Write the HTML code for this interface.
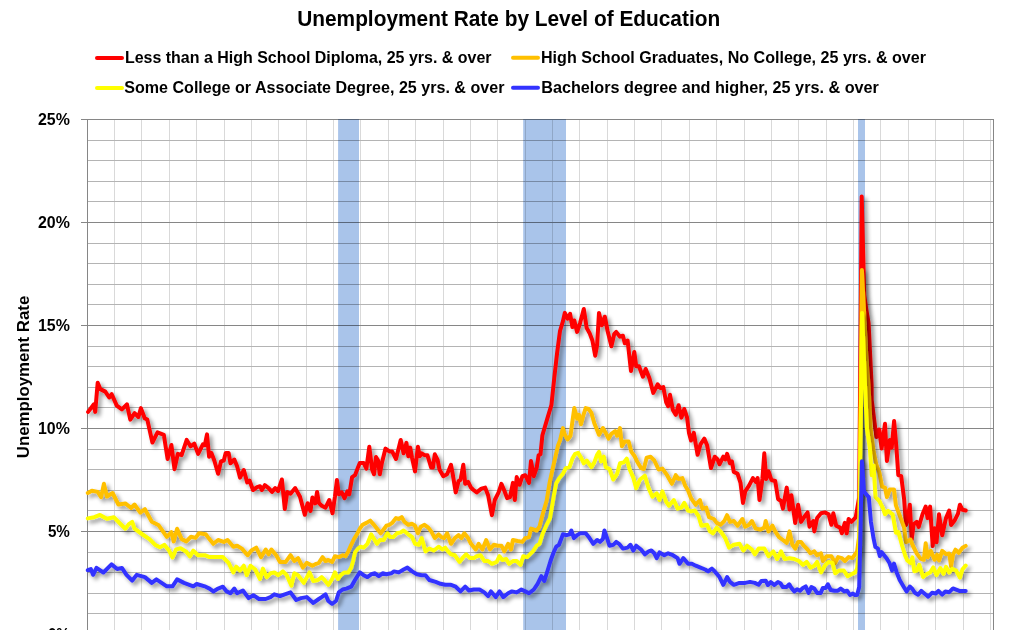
<!DOCTYPE html><html><head><meta charset="utf-8"><style>html,body{margin:0;padding:0;background:#fff;width:1011px;height:630px;overflow:hidden;position:relative}</style></head><body><svg width="1011" height="630" viewBox="0 0 1011 630" style="position:absolute;left:0;top:0">
<defs><filter id="sh" x="-5%" y="-5%" width="110%" height="115%">
<feGaussianBlur in="SourceAlpha" stdDeviation="2.3"/><feOffset dx="3" dy="3" result="b"/>
<feComponentTransfer><feFuncA type="linear" slope="0.42"/></feComponentTransfer>
<feMerge><feMergeNode/><feMergeNode in="SourceGraphic"/></feMerge></filter></defs>
<rect x="338.1" y="119" width="20.9" height="511" fill="#A9C4EA"/>
<rect x="523.2" y="119" width="42.8" height="511" fill="#A9C4EA"/>
<rect x="858.0" y="119" width="7.0" height="511" fill="#A9C4EA"/>
<g style="mix-blend-mode:multiply"><line x1="114.5" y1="119" x2="114.5" y2="630" stroke="#D9D9D9" stroke-width="1"/><line x1="141.5" y1="119" x2="141.5" y2="630" stroke="#D9D9D9" stroke-width="1"/><line x1="169.5" y1="119" x2="169.5" y2="630" stroke="#D9D9D9" stroke-width="1"/><line x1="196.5" y1="119" x2="196.5" y2="630" stroke="#D9D9D9" stroke-width="1"/><line x1="224.5" y1="119" x2="224.5" y2="630" stroke="#D9D9D9" stroke-width="1"/><line x1="251.5" y1="119" x2="251.5" y2="630" stroke="#D9D9D9" stroke-width="1"/><line x1="278.5" y1="119" x2="278.5" y2="630" stroke="#D9D9D9" stroke-width="1"/><line x1="306.5" y1="119" x2="306.5" y2="630" stroke="#D9D9D9" stroke-width="1"/><line x1="333.5" y1="119" x2="333.5" y2="630" stroke="#D9D9D9" stroke-width="1"/><line x1="360.5" y1="119" x2="360.5" y2="630" stroke="#D9D9D9" stroke-width="1"/><line x1="388.5" y1="119" x2="388.5" y2="630" stroke="#D9D9D9" stroke-width="1"/><line x1="415.5" y1="119" x2="415.5" y2="630" stroke="#D9D9D9" stroke-width="1"/><line x1="443.5" y1="119" x2="443.5" y2="630" stroke="#D9D9D9" stroke-width="1"/><line x1="470.5" y1="119" x2="470.5" y2="630" stroke="#D9D9D9" stroke-width="1"/><line x1="497.5" y1="119" x2="497.5" y2="630" stroke="#D9D9D9" stroke-width="1"/><line x1="525.5" y1="119" x2="525.5" y2="630" stroke="#D9D9D9" stroke-width="1"/><line x1="552.5" y1="119" x2="552.5" y2="630" stroke="#D9D9D9" stroke-width="1"/><line x1="579.5" y1="119" x2="579.5" y2="630" stroke="#D9D9D9" stroke-width="1"/><line x1="607.5" y1="119" x2="607.5" y2="630" stroke="#D9D9D9" stroke-width="1"/><line x1="634.5" y1="119" x2="634.5" y2="630" stroke="#D9D9D9" stroke-width="1"/><line x1="661.5" y1="119" x2="661.5" y2="630" stroke="#D9D9D9" stroke-width="1"/><line x1="689.5" y1="119" x2="689.5" y2="630" stroke="#D9D9D9" stroke-width="1"/><line x1="716.5" y1="119" x2="716.5" y2="630" stroke="#D9D9D9" stroke-width="1"/><line x1="744.5" y1="119" x2="744.5" y2="630" stroke="#D9D9D9" stroke-width="1"/><line x1="771.5" y1="119" x2="771.5" y2="630" stroke="#D9D9D9" stroke-width="1"/><line x1="798.5" y1="119" x2="798.5" y2="630" stroke="#D9D9D9" stroke-width="1"/><line x1="826.5" y1="119" x2="826.5" y2="630" stroke="#D9D9D9" stroke-width="1"/><line x1="853.5" y1="119" x2="853.5" y2="630" stroke="#D9D9D9" stroke-width="1"/><line x1="880.5" y1="119" x2="880.5" y2="630" stroke="#D9D9D9" stroke-width="1"/><line x1="908.5" y1="119" x2="908.5" y2="630" stroke="#D9D9D9" stroke-width="1"/><line x1="935.5" y1="119" x2="935.5" y2="630" stroke="#D9D9D9" stroke-width="1"/><line x1="963.5" y1="119" x2="963.5" y2="630" stroke="#D9D9D9" stroke-width="1"/><line x1="990.5" y1="119" x2="990.5" y2="630" stroke="#D9D9D9" stroke-width="1"/><line x1="81" y1="634.50" x2="994" y2="634.50" stroke="#868686" stroke-width="1"/><line x1="87" y1="613.50" x2="994" y2="613.50" stroke="#B4B4B4" stroke-width="1"/><line x1="87" y1="593.50" x2="994" y2="593.50" stroke="#B4B4B4" stroke-width="1"/><line x1="87" y1="572.50" x2="994" y2="572.50" stroke="#B4B4B4" stroke-width="1"/><line x1="87" y1="552.50" x2="994" y2="552.50" stroke="#B4B4B4" stroke-width="1"/><line x1="81" y1="531.50" x2="994" y2="531.50" stroke="#868686" stroke-width="1"/><line x1="87" y1="510.50" x2="994" y2="510.50" stroke="#B4B4B4" stroke-width="1"/><line x1="87" y1="490.50" x2="994" y2="490.50" stroke="#B4B4B4" stroke-width="1"/><line x1="87" y1="469.50" x2="994" y2="469.50" stroke="#B4B4B4" stroke-width="1"/><line x1="87" y1="449.50" x2="994" y2="449.50" stroke="#B4B4B4" stroke-width="1"/><line x1="81" y1="428.50" x2="994" y2="428.50" stroke="#868686" stroke-width="1"/><line x1="87" y1="407.50" x2="994" y2="407.50" stroke="#B4B4B4" stroke-width="1"/><line x1="87" y1="387.50" x2="994" y2="387.50" stroke="#B4B4B4" stroke-width="1"/><line x1="87" y1="366.50" x2="994" y2="366.50" stroke="#B4B4B4" stroke-width="1"/><line x1="87" y1="346.50" x2="994" y2="346.50" stroke="#B4B4B4" stroke-width="1"/><line x1="81" y1="325.50" x2="994" y2="325.50" stroke="#868686" stroke-width="1"/><line x1="87" y1="304.50" x2="994" y2="304.50" stroke="#B4B4B4" stroke-width="1"/><line x1="87" y1="284.50" x2="994" y2="284.50" stroke="#B4B4B4" stroke-width="1"/><line x1="87" y1="263.50" x2="994" y2="263.50" stroke="#B4B4B4" stroke-width="1"/><line x1="87" y1="243.50" x2="994" y2="243.50" stroke="#B4B4B4" stroke-width="1"/><line x1="81" y1="222.50" x2="994" y2="222.50" stroke="#868686" stroke-width="1"/><line x1="87" y1="201.50" x2="994" y2="201.50" stroke="#B4B4B4" stroke-width="1"/><line x1="87" y1="181.50" x2="994" y2="181.50" stroke="#B4B4B4" stroke-width="1"/><line x1="87" y1="160.50" x2="994" y2="160.50" stroke="#B4B4B4" stroke-width="1"/><line x1="87" y1="140.50" x2="994" y2="140.50" stroke="#B4B4B4" stroke-width="1"/><line x1="81" y1="119.50" x2="994" y2="119.50" stroke="#868686" stroke-width="1"/></g>
<line x1="87.5" y1="119" x2="87.5" y2="630" stroke="#868686" stroke-width="1"/>
<line x1="993.5" y1="119.5" x2="993.5" y2="630" stroke="#868686" stroke-width="1"/>
<g fill="none" stroke-width="4" stroke-linejoin="round" stroke-linecap="round">
<polyline filter="url(#sh)" points="88.1,411.9 93.9,404.3 95.2,411.9 97.7,382.7 100.3,389.1 105.3,391.6 109.2,397.5 111.7,394.2 116.8,405.6 121.9,409.4 126.9,404.3 130.3,419.6 134.6,413.2 138.4,417.0 140.9,408.1 144.7,418.3 147.3,419.6 152.4,442.5 157.5,432.3 163.8,434.8 167.6,459.0 171.4,445.0 174.5,469.2 177.8,453.9 181.6,455.2 186.7,439.9 190.5,446.3 194.3,443.7 198.1,453.9 202.9,444.3 204.8,445.2 207.0,434.4 209.1,456.7 211.4,452.9 214.3,460.5 218.1,473.8 221.0,461.4 223.8,460.5 225.7,452.9 228.6,452.9 230.5,463.3 234.3,459.5 237.1,466.2 240.0,477.6 243.8,470.0 247.2,482.4 249.5,480.5 253.0,490.0 257.1,487.1 260.0,486.2 261.9,490.0 264.8,485.2 268.6,488.1 272.0,491.9 275.2,488.1 278.1,491.0 281.9,479.5 284.8,509.0 287.2,491.9 290.5,493.8 295.2,488.1 300.0,496.7 304.8,514.8 307.6,503.3 310.5,511.0 312.4,497.6 315.2,503.3 317.1,491.9 318.8,502.9 321.7,505.7 325.5,507.6 329.3,500.0 332.5,513.3 335.0,496.2 336.9,480.0 338.8,494.3 341.7,492.4 344.5,498.1 347.4,491.4 349.3,494.3 352.1,477.1 355.0,475.2 357.9,467.6 359.8,462.9 363.6,462.9 366.4,468.6 369.3,446.7 372.1,469.5 374.0,474.3 376.0,457.1 377.9,460.0 379.8,474.3 381.7,463.8 385.5,448.6 389.3,451.4 392.1,451.4 396.0,459.0 400.7,440.0 403.6,453.3 406.4,442.9 408.3,456.2 410.2,447.6 412.1,458.1 415.0,471.4 417.9,446.7 419.8,456.2 421.7,453.3 424.5,455.2 427.4,455.2 431.2,467.6 432.9,467.6 434.8,454.3 437.6,460.0 439.5,469.5 443.3,476.2 447.1,474.3 451.0,464.8 452.9,475.2 455.7,492.4 458.6,481.0 460.5,480.0 463.3,464.8 465.2,483.8 468.1,481.9 471.0,487.6 472.9,489.5 476.7,492.4 481.4,488.6 485.2,487.6 488.1,495.2 491.9,515.2 494.8,500.0 498.6,492.4 501.4,483.8 504.3,490.5 507.1,498.1 510.0,497.1 512.9,482.9 514.8,500.0 516.7,477.1 519.5,484.8 522.4,476.2 525.2,475.2 529.0,482.9 531.0,461.0 533.8,476.2 536.7,467.6 538.6,455.2 540.5,454.3 542.4,435.2 547.6,417.6 551.4,405.2 554.3,377.6 557.1,352.9 560.0,331.0 562.9,321.4 564.8,312.9 567.6,318.6 570.1,313.8 572.4,327.1 574.3,320.5 577.1,331.9 580.0,323.3 583.8,309.0 586.7,328.1 589.5,332.9 592.4,340.5 595.2,355.7 597.1,345.2 599.0,312.9 601.9,325.2 604.8,316.7 607.6,331.0 611.4,346.2 614.3,333.8 616.2,331.9 620.0,336.7 622.9,335.7 624.8,343.3 627.6,340.5 631.0,371.0 634.3,351.9 636.2,366.2 639.0,366.2 642.9,376.7 645.7,369.0 649.5,378.6 653.3,392.9 657.6,384.3 660.5,388.1 663.3,387.1 666.2,402.4 668.1,406.2 670.0,394.8 672.9,410.0 675.7,414.8 678.6,405.2 681.4,417.6 684.3,409.0 687.1,417.6 689.0,432.9 691.0,440.5 693.8,432.9 697.6,454.8 700.5,444.3 704.3,438.6 707.1,445.2 711.0,468.1 714.8,456.7 717.6,459.5 719.5,464.3 723.3,456.7 725.2,459.5 727.1,453.8 730.0,463.3 731.9,461.4 733.8,471.9 737.6,473.8 740.5,482.9 743.0,502.9 745.2,491.4 749.0,485.7 752.9,478.1 755.7,481.9 757.6,478.1 759.5,500.0 762.4,479.0 764.3,453.3 766.2,479.0 768.6,471.4 771.4,480.0 775.2,481.0 778.1,499.0 781.0,501.0 782.9,508.6 786.7,487.6 789.5,509.5 791.4,495.2 795.2,522.9 798.1,504.8 801.0,521.9 804.8,516.2 807.6,512.4 809.5,526.7 813.3,521.0 814.3,531.4 817.1,518.1 821.0,513.3 824.8,512.4 828.6,514.3 831.4,524.8 833.3,513.3 836.2,525.7 840.0,527.6 841.9,533.3 844.8,522.9 846.7,533.3 848.6,519.0 851.4,521.9 855.7,517.3 859.2,497.0 861.7,196.5 864.2,295.0 866.4,310.0 868.6,323.0 871.6,385.0 871.7,400.0 873.6,415.2 876.4,437.1 879.3,429.5 881.6,448.6 885.0,423.8 886.9,461.0 889.8,440.0 891.7,447.6 894.1,421.0 896.4,447.6 898.3,475.2 901.2,476.2 904.1,499.0 906.0,525.1 907.9,518.1 909.8,504.7 911.7,539.6 913.6,524.4 916.8,521.9 918.7,527.0 922.5,514.3 925.7,506.6 927.6,518.1 930.1,506.6 932.7,546.0 934.6,528.2 936.5,542.2 939.0,514.3 942.2,535.2 946.0,518.1 949.2,510.5 951.1,525.1 954.9,520.0 958.0,513.6 959.9,504.7 962.5,509.8 965.7,510.5" stroke="#FF0000"/>
<polyline filter="url(#sh)" points="87.8,493.0 91.9,490.7 97.7,491.9 101.1,497.2 103.9,483.8 106.9,496.5 112.6,493.0 118.4,504.5 125.3,503.4 131.1,508.0 134.5,504.5 140.3,512.6 144.9,509.2 151.8,521.8 158.7,525.3 166.8,536.8 171.4,532.2 173.7,541.4 177.1,528.7 181.7,539.1 186.3,541.4 191.0,536.8 195.6,537.9 199.0,533.3 205.7,534.3 208.6,538.1 213.3,543.8 218.1,540.0 223.8,541.9 227.6,540.0 233.3,546.7 237.1,545.7 241.9,548.6 247.6,555.2 251.4,550.5 256.2,547.6 261.0,557.1 265.7,549.5 268.6,554.3 271.4,549.5 276.2,555.2 280.0,561.9 285.7,561.9 290.5,555.2 294.3,561.0 298.1,558.1 302.9,567.6 306.7,562.9 312.4,565.7 316.2,563.8 318.8,562.9 322.6,557.1 325.5,561.0 328.3,560.0 332.1,561.9 335.0,556.2 338.8,557.1 342.6,555.2 345.5,556.2 348.3,551.4 351.2,544.8 354.0,539.0 356.9,534.3 359.8,528.6 362.6,524.8 366.4,522.9 370.2,520.6 373.1,523.8 376.9,528.6 380.7,533.3 383.6,529.5 386.4,525.7 389.3,524.8 392.1,522.9 396.0,518.1 398.8,519.0 401.7,517.1 404.5,521.9 408.3,524.8 412.1,523.8 415.0,525.7 417.9,533.3 420.7,526.7 424.5,524.8 428.3,527.6 431.2,531.4 434.8,538.1 438.6,534.3 441.4,537.1 444.3,538.1 447.1,533.3 451.0,543.8 454.8,538.1 458.6,535.2 461.4,538.1 464.3,533.3 468.1,538.1 471.0,543.8 475.7,549.5 478.6,543.8 482.4,549.5 486.2,540.0 490.0,549.5 493.8,544.8 497.6,545.7 501.4,545.7 504.3,551.4 508.1,543.8 511.0,549.5 512.9,540.0 517.6,541.0 522.4,541.9 525.2,538.1 529.0,537.1 531.0,528.6 536.7,530.5 539.5,526.7 542.4,515.2 546.7,500.5 549.5,483.3 552.4,470.0 555.2,457.6 558.1,445.2 560.0,440.5 562.9,428.1 564.8,434.8 567.6,439.5 570.5,435.7 572.4,421.4 574.3,408.1 577.1,418.6 579.0,414.8 581.0,424.3 583.8,413.8 585.7,408.1 588.6,409.0 591.4,412.9 594.3,423.3 597.1,430.0 599.0,434.8 602.9,428.1 605.7,432.9 608.6,438.6 611.4,433.8 615.2,431.0 617.1,435.7 620.0,428.1 621.9,446.2 624.8,441.4 628.6,441.4 631.4,451.9 634.3,455.7 637.1,461.4 641.0,468.1 643.8,469.0 646.7,457.6 650.5,456.7 654.3,460.5 658.6,469.5 662.4,468.6 667.1,475.2 671.9,483.8 675.7,475.2 678.6,479.0 682.4,478.1 685.2,485.7 688.1,490.5 691.0,498.1 695.7,504.8 699.9,500.0 702.4,508.6 706.2,507.6 709.0,517.1 713.8,519.0 716.7,522.9 720.5,524.8 724.3,521.0 727.1,515.2 730.0,521.9 733.8,521.0 737.6,525.7 742.4,519.0 745.2,526.7 749.0,524.8 751.9,521.0 755.7,528.6 760.5,529.5 764.3,527.6 765.7,521.0 768.6,531.4 772.4,525.7 775.2,531.4 779.0,537.1 782.9,540.0 786.7,542.9 789.5,531.4 792.4,544.8 795.2,548.6 798.1,541.9 801.0,541.9 803.8,545.7 807.6,549.5 810.5,553.3 814.3,551.4 817.1,555.2 821.0,553.3 822.9,561.0 826.7,556.2 831.4,556.2 835.2,562.9 838.1,557.1 841.9,558.1 844.8,561.0 848.6,557.1 852.4,558.1 855.2,554.3 857.1,551.4 859.2,536.0 861.9,270.0 864.5,320.0 866.5,360.0 868.5,385.0 870.7,428.6 873.6,451.4 876.4,464.8 879.3,472.4 882.1,486.7 885.0,487.6 886.9,497.1 889.8,489.5 894.0,489.5 895.9,505.4 899.7,515.5 904.1,527.6 906.0,542.2 910.5,539.6 913.0,546.0 916.8,553.6 920.6,558.6 923.8,559.8 925.7,543.3 927.6,557.3 930.8,550.9 934.6,559.8 937.1,554.7 939.0,560.5 942.2,550.9 946.0,554.1 949.2,553.5 951.1,566.2 953.0,554.7 955.5,549.7 958.7,552.8 962.5,547.8 965.7,545.9" stroke="#FFC000"/>
<polyline filter="url(#sh)" points="87.8,518.4 94.2,517.2 100.0,514.9 106.9,518.8 113.8,517.2 119.5,523.0 125.3,528.7 128.8,524.1 132.2,521.8 134.5,528.7 142.6,534.5 149.5,539.1 155.2,544.9 159.9,547.2 164.5,544.9 169.1,550.6 172.5,557.5 176.0,549.5 180.6,548.3 186.3,551.8 189.8,556.4 193.3,550.6 197.9,555.2 204.8,555.2 209.5,557.1 215.2,557.1 222.9,557.1 228.6,562.9 233.3,572.4 236.2,566.7 240.0,570.5 243.8,565.7 246.7,575.2 250.5,565.7 255.2,569.5 260.0,579.0 262.9,568.6 266.7,577.1 270.5,573.3 274.3,572.4 278.1,575.2 282.9,571.4 286.7,575.2 291.4,585.7 294.3,573.3 298.1,575.2 303.8,582.9 309.5,572.4 313.3,581.0 317.9,580.0 321.7,577.1 324.5,580.0 328.3,584.8 332.1,579.0 335.0,572.4 337.9,579.0 340.7,575.2 344.5,572.4 348.3,572.4 351.2,567.6 353.1,561.0 355.0,552.4 357.9,548.6 360.7,546.7 363.6,547.6 367.4,543.8 371.2,534.3 374.0,539.0 376.9,543.8 379.8,540.0 383.6,540.0 387.4,533.3 390.2,537.1 393.1,537.1 396.9,533.3 400.7,532.4 403.6,530.5 408.3,534.3 412.1,537.1 415.0,543.8 418.8,544.8 421.7,538.1 425.5,551.4 429.3,548.6 433.8,550.5 438.6,546.7 442.4,549.5 445.2,547.6 448.1,551.4 451.0,554.3 454.8,555.2 459.5,561.9 463.3,557.1 466.2,554.3 470.0,558.1 473.8,558.1 476.7,556.2 480.5,555.2 484.3,561.0 488.1,561.0 491.9,563.8 496.7,561.9 499.5,556.2 502.4,560.0 506.2,559.0 509.0,563.8 512.9,561.0 516.7,561.0 520.5,564.8 523.3,556.2 527.1,557.1 532.9,551.4 536.7,545.7 539.5,543.8 542.4,534.3 546.2,525.7 550.0,518.1 551.4,510.0 554.3,492.9 556.2,483.3 559.0,478.6 562.9,473.8 565.7,468.1 569.5,467.1 572.4,458.6 575.2,453.8 578.1,452.9 581.0,457.6 583.8,463.3 586.7,460.5 591.4,467.1 594.3,462.4 597.1,454.8 599.0,451.9 601.0,461.4 603.8,456.7 605.7,467.1 609.5,469.0 613.3,479.5 617.1,473.8 620.0,463.3 623.8,462.4 626.7,458.6 629.5,469.0 633.3,477.6 636.2,488.1 640.0,479.5 644.8,475.7 648.6,488.1 652.4,496.7 656.7,493.3 659.5,500.0 662.4,491.4 666.2,501.9 669.0,505.7 673.8,500.0 677.6,508.6 681.4,507.6 684.3,502.9 688.1,510.5 691.0,511.4 694.8,510.5 698.6,516.2 701.4,525.7 707.1,524.8 710.0,531.4 712.9,533.3 716.7,527.6 721.4,532.4 725.2,538.1 729.0,547.6 733.8,544.8 739.5,543.8 743.3,550.5 747.1,545.7 751.9,549.5 754.8,554.3 758.6,548.6 764.3,548.6 768.6,556.2 773.3,551.4 777.1,559.0 781.0,551.4 784.8,559.0 789.5,558.1 794.3,559.0 799.0,561.0 802.9,564.8 806.7,561.9 810.5,567.6 814.3,565.7 817.1,561.9 821.0,572.4 824.8,565.7 828.6,561.9 832.4,562.9 835.2,573.3 839.0,570.5 843.8,570.5 847.6,576.2 851.4,574.3 855.2,572.4 857.1,568.6 859.2,549.0 862.1,313.0 865.0,385.0 866.9,428.6 869.8,447.6 871.7,475.2 873.6,465.7 875.5,497.1 879.3,501.0 883.1,508.6 885.0,514.3 888.1,510.9 892.7,514.3 895.9,532.7 898.4,532.0 902.2,546.0 905.4,556.1 907.3,560.5 910.5,563.0 912.4,557.3 914.3,571.2 916.8,570.6 919.3,564.9 923.1,577.0 927.0,573.8 930.1,572.5 933.3,567.4 936.5,575.1 940.3,568.1 943.5,573.8 946.0,566.8 949.2,572.5 952.3,568.7 956.1,570.6 959.9,577.6 962.5,569.3 965.7,565.5" stroke="#FFFF00"/>
<polyline filter="url(#sh)" points="87.8,570.2 90.8,569.0 93.1,574.8 96.5,567.9 103.4,572.5 111.5,564.4 117.2,569.0 121.9,567.9 126.5,574.8 132.2,580.6 136.8,574.8 144.9,577.1 151.8,582.9 156.4,579.4 166.8,586.3 172.5,586.3 177.1,579.4 184.0,582.9 193.3,586.3 196.7,584.0 205.7,586.7 209.5,588.6 213.3,591.4 218.1,588.6 222.9,586.7 226.7,591.4 230.5,593.3 234.3,588.6 237.1,593.3 242.9,590.5 248.6,598.1 253.3,595.2 259.0,599.0 265.7,599.0 270.5,597.1 274.3,594.3 280.0,596.2 284.8,594.3 290.5,592.4 296.2,600.0 301.0,598.1 306.7,597.1 313.3,602.9 318.8,599.0 321.7,597.1 325.5,594.3 328.3,601.0 332.1,603.8 336.0,601.0 338.8,592.4 342.6,589.5 346.4,588.6 351.2,586.7 355.0,580.0 359.8,572.4 363.6,575.2 367.4,577.1 371.2,574.3 375.0,573.3 378.8,576.2 382.6,573.3 386.4,574.3 391.2,573.3 394.0,571.4 398.8,572.4 403.6,569.5 407.4,567.6 412.1,571.4 416.9,574.3 421.7,575.2 425.5,575.2 429.3,580.0 435.7,581.9 440.5,583.8 445.2,584.8 451.0,584.8 455.7,586.7 460.5,591.4 465.2,586.7 469.0,590.5 473.8,589.5 479.5,589.5 484.3,592.4 488.1,596.2 491.0,591.4 495.7,597.1 499.5,591.4 503.3,597.1 508.1,593.3 511.9,591.4 516.7,592.4 521.4,589.5 525.2,591.4 529.0,593.3 533.8,589.5 537.6,583.8 541.4,576.2 544.3,581.0 547.6,570.5 550.5,561.0 553.3,553.3 556.2,546.7 559.0,544.8 561.9,537.1 562.9,534.3 566.7,535.2 569.5,534.3 571.4,530.5 573.9,538.1 577.1,535.2 580.0,533.3 585.7,533.3 589.5,538.1 593.3,543.8 597.1,540.0 600.0,541.9 602.9,539.0 604.4,530.5 606.7,537.1 609.5,545.7 613.3,544.8 616.2,541.9 619.0,543.8 622.9,548.6 627.6,547.6 630.5,544.8 633.3,550.5 636.2,545.7 641.0,549.5 644.8,554.3 648.6,551.4 651.4,550.5 654.3,553.3 656.7,558.1 659.5,552.4 664.3,555.2 668.1,553.3 672.9,555.2 677.6,558.1 679.5,563.8 683.3,558.1 688.1,563.8 691.9,563.8 695.7,565.7 700.5,567.6 705.2,569.5 708.1,571.4 711.9,568.6 714.8,571.4 719.5,577.1 723.3,584.8 727.1,577.1 730.0,581.9 733.8,584.8 739.5,582.9 745.2,582.9 750.0,581.9 754.8,582.9 758.6,584.8 761.4,581.0 765.7,580.7 767.9,585.0 770.7,582.1 774.3,585.0 777.9,582.1 780.7,583.6 782.9,587.1 786.4,587.1 789.3,584.3 791.4,587.9 794.3,591.4 797.1,589.3 800.0,590.7 802.9,587.9 805.7,586.4 808.6,592.9 811.4,587.1 814.3,588.6 817.1,592.9 820.7,592.9 822.9,587.9 825.7,587.9 827.9,584.3 830.7,590.0 834.3,590.7 837.9,590.7 840.7,588.6 844.3,591.4 847.1,590.7 850.0,595.0 852.9,593.6 855.0,595.0 857.1,595.0 859.2,587.0 861.9,461.3 864.0,491.4 866.9,495.2 868.8,497.1 870.9,521.7 873.5,538.2 875.4,547.1 877.9,548.4 879.8,556.0 881.7,552.2 886.3,557.9 889.5,563.0 892.1,570.6 894.0,563.6 896.5,571.9 899.7,580.1 903.5,586.5 906.6,591.5 909.8,586.5 912.4,589.0 914.9,592.8 918.1,594.7 921.2,590.9 924.4,593.5 928.2,596.6 932.0,592.8 935.8,593.5 938.4,590.9 942.2,594.7 945.4,591.5 949.2,592.2 953.0,588.4 956.1,589.6 959.3,590.9 965.7,590.9" stroke="#3333FF"/>
</g>
<text x="297.2" y="25.9" font-family="&quot;Liberation Sans&quot;, sans-serif" font-weight="bold" font-size="22" textLength="423" lengthAdjust="spacingAndGlyphs" text-anchor="start" >Unemployment Rate by Level of Education</text>
<g stroke-width="4" stroke-linecap="round">
<line x1="97" y1="58" x2="122" y2="58" stroke="#FF0000"/>
<line x1="513" y1="57.8" x2="538" y2="57.8" stroke="#FFC000"/>
<line x1="97" y1="88" x2="122" y2="88" stroke="#FFFF00"/>
<line x1="513" y1="87.8" x2="538" y2="87.8" stroke="#3333FF"/>
</g>
<text x="124.9" y="63" font-family="&quot;Liberation Sans&quot;, sans-serif" font-weight="bold" font-size="16.8" textLength="366.6" lengthAdjust="spacingAndGlyphs" text-anchor="start" >Less than a High School Diploma, 25 yrs. &amp; over</text>
<text x="541" y="63" font-family="&quot;Liberation Sans&quot;, sans-serif" font-weight="bold" font-size="16.8" textLength="385" lengthAdjust="spacingAndGlyphs" text-anchor="start" >High School Graduates, No College, 25 yrs. &amp; over</text>
<text x="124.2" y="93.3" font-family="&quot;Liberation Sans&quot;, sans-serif" font-weight="bold" font-size="16.8" textLength="380.2" lengthAdjust="spacingAndGlyphs" text-anchor="start" >Some College or Associate Degree, 25 yrs. &amp; over</text>
<text x="541.2" y="93.3" font-family="&quot;Liberation Sans&quot;, sans-serif" font-weight="bold" font-size="16.8" textLength="337.7" lengthAdjust="spacingAndGlyphs" text-anchor="start" >Bachelors degree and higher, 25 yrs. &amp; over</text>
<text x="38.00000000000001" y="125.4" font-family="&quot;Liberation Sans&quot;, sans-serif" font-weight="bold" font-size="16.8" textLength="31.9" lengthAdjust="spacingAndGlyphs" text-anchor="start" >25%</text>
<text x="38.00000000000001" y="228.4" font-family="&quot;Liberation Sans&quot;, sans-serif" font-weight="bold" font-size="16.8" textLength="31.9" lengthAdjust="spacingAndGlyphs" text-anchor="start" >20%</text>
<text x="38.00000000000001" y="331.4" font-family="&quot;Liberation Sans&quot;, sans-serif" font-weight="bold" font-size="16.8" textLength="31.9" lengthAdjust="spacingAndGlyphs" text-anchor="start" >15%</text>
<text x="38.00000000000001" y="434.4" font-family="&quot;Liberation Sans&quot;, sans-serif" font-weight="bold" font-size="16.8" textLength="31.9" lengthAdjust="spacingAndGlyphs" text-anchor="start" >10%</text>
<text x="47.900000000000006" y="537.4" font-family="&quot;Liberation Sans&quot;, sans-serif" font-weight="bold" font-size="16.8" textLength="22" lengthAdjust="spacingAndGlyphs" text-anchor="start" >5%</text>
<text x="47.900000000000006" y="640.4" font-family="&quot;Liberation Sans&quot;, sans-serif" font-weight="bold" font-size="16.8" textLength="22" lengthAdjust="spacingAndGlyphs" text-anchor="start" >0%</text>
<g transform="translate(28.8,458.2) rotate(-90)"><text x="0" y="0" font-family="&quot;Liberation Sans&quot;, sans-serif" font-weight="bold" font-size="16.8" textLength="162.5" lengthAdjust="spacingAndGlyphs" text-anchor="start" >Unemployment Rate</text></g>
</svg></body></html>
